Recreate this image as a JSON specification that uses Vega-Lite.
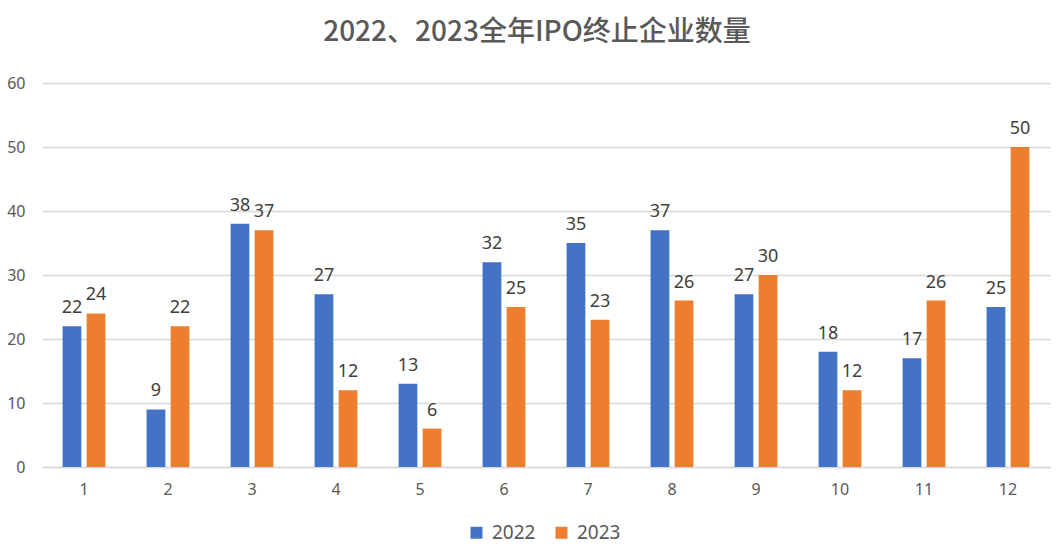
{
  "$schema": "https://vega.github.io/schema/vega-lite/v6.json",
  "width": 1008,
  "height": 384,
  "autosize": {"type": "none"},
  "padding": {"left": 42, "top": 83, "right": 12, "bottom": 82},
  "background": "white",
  "config": {"view": {"stroke": null}},
  "title": {
    "text": "2022、2023全年IPO终止企业数量",
    "font": "Noto Sans CJK SC",
    "fontSize": 28,
    "fontWeight": 500,
    "color": "#595959",
    "anchor": "middle",
    "offset": 28,
    "dx": -9
  },
  "data": {
    "values": [
      {"month": 1, "year": "2022", "count": 22}, {"month": 1, "year": "2023", "count": 24},
      {"month": 2, "year": "2022", "count": 9}, {"month": 2, "year": "2023", "count": 22},
      {"month": 3, "year": "2022", "count": 38}, {"month": 3, "year": "2023", "count": 37},
      {"month": 4, "year": "2022", "count": 27}, {"month": 4, "year": "2023", "count": 12},
      {"month": 5, "year": "2022", "count": 13}, {"month": 5, "year": "2023", "count": 6},
      {"month": 6, "year": "2022", "count": 32}, {"month": 6, "year": "2023", "count": 25},
      {"month": 7, "year": "2022", "count": 35}, {"month": 7, "year": "2023", "count": 23},
      {"month": 8, "year": "2022", "count": 37}, {"month": 8, "year": "2023", "count": 26},
      {"month": 9, "year": "2022", "count": 27}, {"month": 9, "year": "2023", "count": 30},
      {"month": 10, "year": "2022", "count": 18}, {"month": 10, "year": "2023", "count": 12},
      {"month": 11, "year": "2022", "count": 17}, {"month": 11, "year": "2023", "count": 26},
      {"month": 12, "year": "2022", "count": 25}, {"month": 12, "year": "2023", "count": 50}
    ]
  },
  "encoding": {
    "x": {
      "field": "month",
      "type": "ordinal",
      "scale": {"paddingInner": 0.49, "paddingOuter": 0.245},
      "axis": {
        "title": null,
        "labelAngle": 0,
        "labelFont": "Noto Sans",
        "labelFontSize": 16,
        "labelColor": "#595959",
        "labelPadding": 14,
        "ticks": false,
        "grid": false,
        "domain": true,
        "domainColor": "#D9D9D9",
        "domainWidth": 1.5
      }
    },
    "xOffset": {
      "field": "year",
      "type": "nominal",
      "scale": {"paddingInner": 0.22, "paddingOuter": 0}
    },
    "y": {
      "field": "count",
      "type": "quantitative",
      "scale": {"domain": [0, 60]},
      "axis": {
        "title": null,
        "values": [0, 10, 20, 30, 40, 50, 60],
        "labelFont": "Noto Sans",
        "labelFontSize": 16,
        "labelColor": "#595959",
        "labelPadding": 17,
        "ticks": false,
        "domain": false,
        "grid": true,
        "gridColor": "#D9D9D9",
        "gridWidth": 1.3
      }
    }
  },
  "layer": [
    {
      "mark": {"type": "bar"},
      "encoding": {
        "color": {
          "field": "year",
          "type": "nominal",
          "scale": {"domain": ["2022", "2023"], "range": ["#4472C4", "#ED7D31"]},
          "legend": {
            "title": null,
            "orient": "none",
            "direction": "horizontal",
            "legendX": 425,
            "legendY": 440,
            "symbolType": "square",
            "symbolSize": 144,
            "symbolStrokeWidth": 0,
            "labelFont": "Noto Sans",
            "labelFontSize": 19,
            "labelColor": "#595959",
            "labelOffset": 6,
            "columnPadding": 16
          }
        }
      }
    },
    {
      "mark": {"type": "text", "dy": -18, "font": "Noto Sans", "fontSize": 18, "color": "#404040"},
      "encoding": {
        "text": {"field": "count", "type": "quantitative"}
      }
    }
  ]
}
